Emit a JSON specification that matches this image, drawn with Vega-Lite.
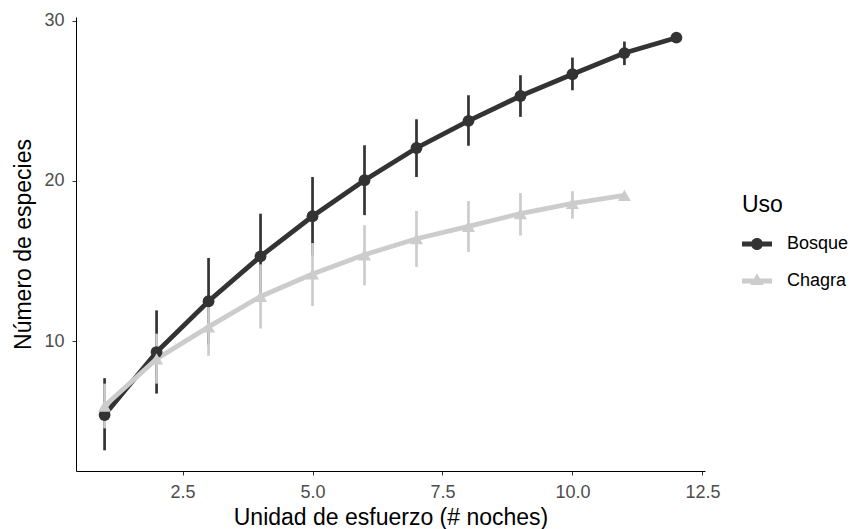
{
  "$schema": "https://vega.github.io/schema/vega-lite/v6.json",
  "autosize": {"type": "none"},
  "padding": {"left": 76, "top": 17, "right": 154, "bottom": 58},
  "width": 629,
  "height": 454,
  "background": "white",
  "config": {
    "view": {"stroke": null},
    "font": "Liberation Sans",
    "axis": {
      "grid": false,
      "domainColor": "#000000",
      "domainWidth": 1,
      "tickColor": "#333333",
      "tickWidth": 1,
      "tickSize": 4,
      "labelColor": "#4d4d4d",
      "labelFontSize": 18,
      "labelFont": "Liberation Sans",
      "titleFont": "Liberation Sans",
      "titleFontSize": 23,
      "titleFontWeight": "normal",
      "titleColor": "#000000"
    }
  },
  "data": {
    "values": [
      {"Uso": "Bosque", "x": 1, "y": 5.4, "lo": 3.2, "hi": 7.7},
      {"Uso": "Bosque", "x": 2, "y": 9.33, "lo": 6.74, "hi": 11.93},
      {"Uso": "Bosque", "x": 3, "y": 12.5, "lo": 9.8, "hi": 15.2},
      {"Uso": "Bosque", "x": 4, "y": 15.3, "lo": 12.6, "hi": 17.96},
      {"Uso": "Bosque", "x": 5, "y": 17.8, "lo": 15.35, "hi": 20.25},
      {"Uso": "Bosque", "x": 6, "y": 20.05, "lo": 17.87, "hi": 22.23},
      {"Uso": "Bosque", "x": 7, "y": 22.06, "lo": 20.25, "hi": 23.85},
      {"Uso": "Bosque", "x": 8, "y": 23.75, "lo": 22.2, "hi": 25.35},
      {"Uso": "Bosque", "x": 9, "y": 25.3, "lo": 24.0, "hi": 26.6},
      {"Uso": "Bosque", "x": 10, "y": 26.66, "lo": 25.66, "hi": 27.7},
      {"Uso": "Bosque", "x": 11, "y": 27.98, "lo": 27.23, "hi": 28.7},
      {"Uso": "Bosque", "x": 12, "y": 28.94, "lo": 28.94, "hi": 28.94},
      {"Uso": "Chagra", "x": 1, "y": 5.96, "lo": 4.57, "hi": 7.36},
      {"Uso": "Chagra", "x": 2, "y": 8.9, "lo": 7.36, "hi": 10.48},
      {"Uso": "Chagra", "x": 3, "y": 10.9, "lo": 9.1, "hi": 12.7},
      {"Uso": "Chagra", "x": 4, "y": 12.8, "lo": 10.8, "hi": 14.8},
      {"Uso": "Chagra", "x": 5, "y": 14.2, "lo": 12.2, "hi": 16.13},
      {"Uso": "Chagra", "x": 6, "y": 15.4, "lo": 13.49, "hi": 17.24},
      {"Uso": "Chagra", "x": 7, "y": 16.4, "lo": 14.64, "hi": 18.13},
      {"Uso": "Chagra", "x": 8, "y": 17.17, "lo": 15.57, "hi": 18.75},
      {"Uso": "Chagra", "x": 9, "y": 17.97, "lo": 16.6, "hi": 19.25},
      {"Uso": "Chagra", "x": 10, "y": 18.6, "lo": 17.65, "hi": 19.36},
      {"Uso": "Chagra", "x": 11, "y": 19.1, "lo": 19.1, "hi": 19.1}
    ]
  },
  "encoding": {
    "x": {
      "field": "x",
      "type": "quantitative",
      "scale": {"domain": [0.45, 12.55], "nice": false, "zero": false},
      "axis": {
        "title": "Unidad de esfuerzo (# noches)",
        "values": [2.5, 5, 7.5, 10, 12.5],
        "format": ".1f",
        "labelPadding": 8,
        "titlePadding": 5
      }
    }
  },
  "layer": [
    {
      "mark": {"type": "point", "filled": true, "opacity": 0, "size": 900},
      "encoding": {
        "y": {"field": "y", "type": "quantitative"},
        "color": {
          "field": "Uso",
          "type": "nominal",
          "scale": {"domain": ["Bosque", "Chagra"], "range": ["#333333", "#cccccc"]},
          "legend": {
            "title": "Uso",
            "orient": "none",
            "legendX": 666,
            "legendY": 177,
            "padding": 0,
            "symbolSize": 900,
            "symbolOpacity": 1,
            "symbolStrokeWidth": 0,
            "labelOffset": 15,
            "rowPadding": 13,
            "titlePadding": 12,
            "titleFontSize": 23,
            "titleFontWeight": "normal",
            "titleColor": "#000000",
            "titleFont": "Liberation Sans",
            "labelFont": "Liberation Sans",
            "labelFontSize": 18,
            "labelColor": "#000000"
          }
        },
        "shape": {
          "field": "Uso",
          "type": "nominal",
          "scale": {
            "domain": ["Bosque", "Chagra"],
            "range": [
              "M-1,-0.16H1V0.16H-1Z M0.4,0A0.4,0.4,0,1,1,-0.4,0A0.4,0.4,0,1,1,0.4,0Z",
              "M-1,-0.16H1V0.16H-1Z M0,-0.52L0.45,0.26L-0.45,0.26Z"
            ]
          },
          "legend": {
            "title": "Uso",
            "orient": "none",
            "legendX": 666,
            "legendY": 177,
            "padding": 0,
            "symbolSize": 900,
            "symbolOpacity": 1,
            "symbolStrokeWidth": 0,
            "labelOffset": 15,
            "rowPadding": 13,
            "titlePadding": 12,
            "titleFontSize": 23,
            "titleFontWeight": "normal",
            "titleColor": "#000000",
            "titleFont": "Liberation Sans",
            "labelFont": "Liberation Sans",
            "labelFontSize": 18,
            "labelColor": "#000000"
          }
        }
      }
    },
    {
      "mark": {"type": "rule", "strokeWidth": 2.7},
      "encoding": {
        "y": {
          "field": "lo",
          "type": "quantitative",
          "scale": {"domain": [1.91, 30.23], "nice": false, "zero": false},
          "axis": {
            "title": "Número de especies",
            "values": [10, 20, 30],
            "format": "d",
            "labelPadding": 8,
            "titlePadding": 8
          }
        },
        "y2": {"field": "hi"},
        "color": {"field": "Uso", "type": "nominal", "legend": null}
      }
    },
    {
      "mark": {"type": "line", "strokeWidth": 4.8},
      "encoding": {
        "y": {"field": "y", "type": "quantitative"},
        "color": {"field": "Uso", "type": "nominal", "legend": null}
      }
    },
    {
      "transform": [{"filter": "datum.Uso === 'Bosque'"}],
      "mark": {"type": "point", "filled": true, "opacity": 1, "shape": "circle", "size": 140},
      "encoding": {
        "y": {"field": "y", "type": "quantitative"},
        "color": {"field": "Uso", "type": "nominal", "legend": null}
      }
    },
    {
      "transform": [{"filter": "datum.Uso === 'Chagra'"}],
      "mark": {"type": "point", "filled": true, "opacity": 1, "shape": "triangle-up", "size": 170},
      "encoding": {
        "y": {"field": "y", "type": "quantitative"},
        "color": {"field": "Uso", "type": "nominal", "legend": null}
      }
    }
  ]
}
